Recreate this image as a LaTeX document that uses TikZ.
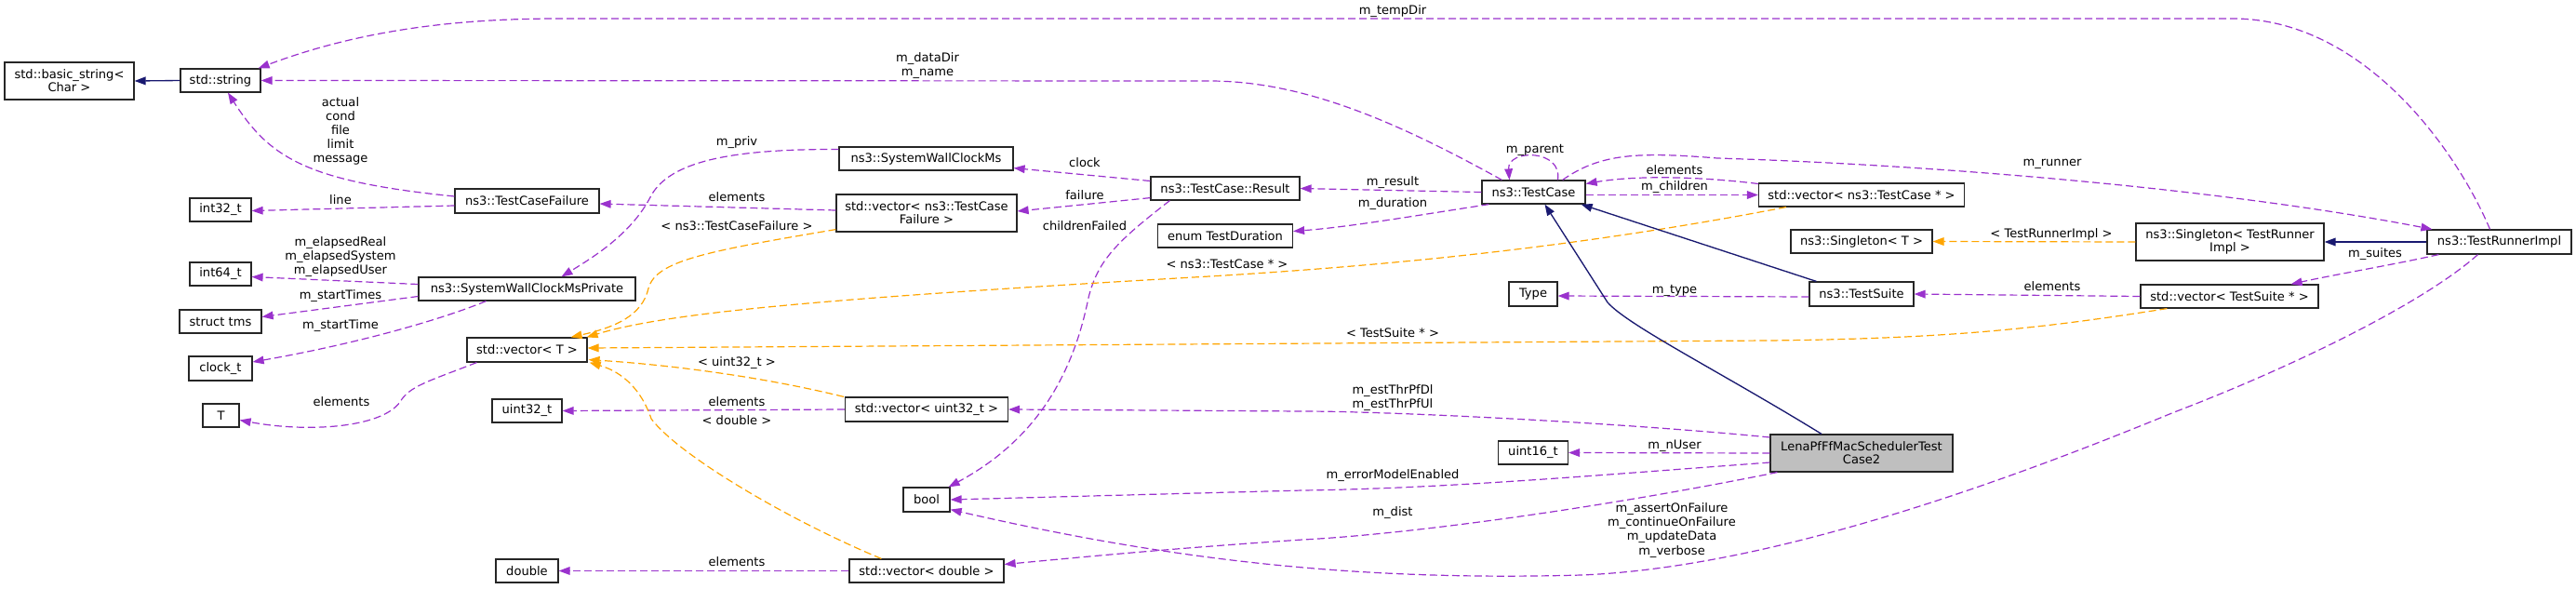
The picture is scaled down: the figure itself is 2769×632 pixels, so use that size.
\documentclass[tikz,border=0pt]{standalone}
\usepackage{fontspec}
\setmainfont{DejaVu Sans}
\usetikzlibrary{arrows.meta,calc}
\definecolor{dpurple}{HTML}{9A32CD}
\definecolor{dorange}{HTML}{FFA500}
\definecolor{dnavy}{HTML}{191970}
\definecolor{lgray}{HTML}{BFBFBF}
\begin{document}
\begin{tikzpicture}[x=0.75pt,y=-0.75pt,
  box/.style={draw=black!85, line width=0.9pt, fill=white, inner sep=0pt, align=center, font=\fontsize{9.8}{10.4}\selectfont},
  wh/.style 2 args={minimum width=#1*0.75pt, minimum height=#2*0.75pt},
  lbl/.style={inner sep=0pt, align=center, font=\fontsize{9.8}{11.3}\selectfont},
  tipa/.style={-{Triangle[length=9pt,width=6.5pt]}},
  usage/.style={draw=dpurple, line width=0.9pt, dash pattern=on 6pt off 3pt, tipa},
  templ/.style={draw=dorange, line width=0.9pt, dash pattern=on 6pt off 3pt, tipa},
  inh/.style={draw=dnavy, line width=1pt, tipa}]
\useasboundingbox (0,0) rectangle (2769,632);

% nodes
\node[box,wh={139}{40}] (bs) at (74.5,87) {std::basic\_string<\\Char >};
\node[box,wh={86}{25}] (str) at (237,86.5) {std::string};
\node[box,wh={155}{26}] (tcf) at (566.5,216) {ns3::TestCaseFailure};
\node[box,wh={66}{25}] (i32) at (237,225.5) {int32\_t};
\node[box,wh={66}{25}] (i64) at (237,294.5) {int64\_t};
\node[box,wh={233}{25}] (prv) at (566.5,310.5) {ns3::SystemWallClockMsPrivate};
\node[box,wh={88}{25}] (tms) at (237,345.5) {struct tms};
\node[box,wh={68}{26}] (clk) at (237,396) {clock\_t};
\node[box,wh={39}{25}] (nT) at (237.5,446.5) {T};
\node[box,wh={129}{26}] (vT) at (566.5,376) {std::vector< T >};
\node[box,wh={75}{25}] (u32) at (566.5,441.5) {uint32\_t};
\node[box,wh={67}{25}] (dbl) at (566.5,613.5) {double};
\node[box,wh={187}{25}] (swcm) at (995.5,170.5) {ns3::SystemWallClockMs};
\node[box,wh={194}{40}] (vtcf) at (996,229) {std::vector< ns3::TestCase\\Failure >};
\node[box,wh={160}{25}] (res) at (1317,202.5) {ns3::TestCase::Result};
\node[box,wh={145}{25}] (dur) at (1317,253.5) {enum TestDuration};
\node[box,wh={175}{26}] (vu32) at (996,440) {std::vector< uint32\_t >};
\node[box,wh={50}{26}] (nbool) at (996,537) {bool};
\node[box,wh={166}{25}] (vdbl) at (996,613.5) {std::vector< double >};
\node[box,wh={111}{25}] (tc) at (1648.5,206.5) {ns3::TestCase};
\node[box,wh={221}{25}] (vtc) at (2001,209.5) {std::vector< ns3::TestCase * >};
\node[box,wh={152}{25}] (sgT) at (2001,259.5) {ns3::Singleton< T >};
\node[box,wh={52}{26}] (type) at (1648,316) {Type};
\node[box,wh={112}{26}] (ts) at (2001,316) {ns3::TestSuite};
\node[box,wh={75}{25}] (u16) at (1648,486.5) {uint16\_t};
\node[box,wh={196}{40},fill=lgray] (lena) at (2001,487) {LenaPfFfMacSchedulerTest\\Case2};
\node[box,wh={202}{40}] (sgR) at (2397,260) {ns3::Singleton< TestRunner\\Impl >};
\node[box,wh={155}{26}] (tri) at (2686.5,260) {ns3::TestRunnerImpl};
\node[box,wh={191}{25}] (vts) at (2396.5,318.5) {std::vector< TestSuite * >};

% edges
\draw[inh] (str.west) -- (bs.east);
\draw[usage] ($(tri.north)+(-10,0)$) .. controls (2640,160) and (2540,20) .. (2400,20) -- (600,20) .. controls (480,20) and (380,35) .. ($(str.north east)+(-3,0)$);
\draw[usage] ($(tc.north west)+(22,0)$) .. controls (1500,130) and (1400,87) .. (1300,87) -- (str.east);
\draw[usage] ($(tcf.west)+(0,-5)$) .. controls (330,195) and (290,170) .. ($(str.south)+(8,0)$);
\draw[usage] ($(tcf.west)+(0,5)$) -- ($(i32.east)+(0,1)$);
\draw[usage] ($(vtcf.west)+(0,-3)$) -- ($(tcf.east)+(0,3)$);
\draw[templ] ($(vtcf.south west)+(0,-3)$) .. controls (760,270) and (705,280) .. (697,310) .. controls (690,340) and (660,352) .. ($(vT.north east)+(-18,0)$);
\draw[usage] ($(swcm.west)+(0,-10)$) .. controls (780,160) and (720,175) .. (700,210) .. controls (680,250) and (640,275) .. ($(prv.north)+(37,0)$);
\draw[usage] ($(res.west)+(0,-8)$) -- ($(swcm.south east)+(0,-3)$);
\draw[usage] ($(res.south west)+(0,-3)$) -- ($(vtcf.east)+(0,-2)$);
\draw[usage] ($(res.south west)+(21,0)$) .. controls (1200,260) and (1180,280) .. (1170,320) .. controls (1150,420) and (1100,480) .. ($(nbool.north east)+(-2,0)$);
\draw[usage] (tc.west) -- (res.east);
\draw[usage] ($(tc.south west)+(8,0)$) .. controls (1520,232) and (1450,244) .. ($(dur.east)+(0,-5)$);
\draw[usage] ($(tc.north)+(26,0)$) .. controls (1680,160) and (1620,160) .. ($(tc.north)+(-26,0)$);
\draw[usage] ($(tc.east)+(0,3)$) -- (vtc.west);
\draw[usage] ($(vtc.west)+(0,-12)$) .. controls (1830,190) and (1760,188) .. ($(tc.east)+(0,-9)$);
\draw[usage] ($(tc.north east)+(-25,0)$) .. controls (1720,165) and (1760,163) .. (1846,170) .. controls (2100,178) and (2400,205) .. ($(tri.north west)+(6,0)$);
\draw[templ] ($(vtc.south west)+(30,0)$) .. controls (1700,265) and (1500,285) .. (1300,297) .. controls (900,320) and (720,335) .. ($(vT.north east)+(-1,0)$);
\draw[templ] (sgR.west) -- (sgT.east);
\draw[inh] (tri.west) -- (sgR.east);
\draw[usage] ($(tri.south west)+(13,0)$) .. controls (2570,285) and (2510,295) .. ($(vts.north east)+(-30,0)$);
\draw[usage] (vts.west) -- (ts.east);
\draw[inh] ($(ts.north west)+(8,0)$) -- ($(tc.south east)+(-5,0)$);
\draw[usage] ($(ts.west)+(0,3)$) -- ($(type.east)+(0,2)$);
\draw[templ] ($(vts.south west)+(29,0)$) .. controls (2200,352) and (2100,364) .. (1900,366) -- ($(vT.east)+(0,-2)$);
\draw[templ] ($(vu32.north west)+(-1,0)$) .. controls (820,405) and (720,392) .. ($(vT.south east)+(1,-3)$);
\draw[usage] (vu32.west) -- (u32.east);
\draw[templ] ($(vdbl.north west)+(35,0)$) .. controls (850,560) and (730,490) .. (700,450) .. controls (690,420) and (670,400) .. ($(vT.south east)+(2,0)$);
\draw[usage] (vdbl.west) -- (dbl.east);
\draw[usage] ($(vT.south west)+(11,0)$) .. controls (460,410) and (440,415) .. (430,432) .. controls (410,460) and (330,465) .. ($(nT.east)+(0,5)$);
\draw[usage] ($(prv.west)+(0,-5)$) -- ($(i64.east)+(0,3)$);
\draw[usage] ($(prv.west)+(0,8)$) -- ($(tms.east)+(0,-5)$);
\draw[usage] ($(prv.south)+(-44,0)$) .. controls (470,345) and (380,370) .. ($(clk.east)+(0,-7)$);
\draw[inh] ($(lena.north)+(-43,0)$) .. controls (1850,400) and (1750,350) .. (1728,325) -- ($(tc.south)+(12,0)$);
\draw[usage] ($(lena.west)+(0,-17)$) .. controls (1750,455) and (1500,442) .. (1400,442) -- (vu32.east);
\draw[usage] (lena.west) -- (u16.east);
\draw[usage] ($(lena.west)+(0,10)$) .. controls (1700,512) and (1550,525) .. (1400,527) -- (nbool.east);
\draw[usage] ($(lena.south west)+(8,0)$) .. controls (1700,550) and (1500,575) .. (1400,580) .. controls (1250,590) and (1150,600) .. ($(vdbl.east)+(0,-7)$);
\draw[usage] ($(tri.south)+(-23,0)$) .. controls (2600,330) and (2450,400) .. (2337,443) .. controls (2150,520) and (1900,610) .. (1700,618) .. controls (1450,625) and (1250,600) .. ($(nbool.south east)+(0,-3)$);

% labels
\node[lbl] (l1) at (1497,12) {m\_tempDir};
\node[lbl] (l2) at (997,71) {m\_dataDir\\m\_name};
\node[lbl] (l3) at (366,141) {actual\\cond\\file\\limit\\message};
\node[lbl] (l4) at (366,215) {line};
\node[lbl] (l5) at (792,212) {elements};
\node[lbl] (l6) at (792,243) {< ns3::TestCaseFailure >};
\node[lbl] (l7) at (792,153) {m\_priv};
\node[lbl] (l8) at (1166,175) {clock};
\node[lbl] (l9) at (1166,210) {failure};
\node[lbl] (l10) at (1166,243) {childrenFailed};
\node[lbl] (l11) at (1497,196) {m\_result};
\node[lbl] (l12) at (1497,219) {m\_duration};
\node[lbl] (l13) at (1650,161) {m\_parent};
\node[lbl] (l14) at (1800,201) {m\_children};
\node[lbl] (l15) at (1800,183) {elements};
\node[lbl] (l16) at (2206,176) {m\_runner};
\node[lbl] (l17) at (1319,284) {< ns3::TestCase * >};
\node[lbl] (l18) at (2205,252) {< TestRunnerImpl >};
\node[lbl] (l19) at (2553,273) {m\_suites};
\node[lbl] (l20) at (2206,308) {elements};
\node[lbl] (l21) at (1800,312) {m\_type};
\node[lbl] (l22) at (1497,358) {< TestSuite * >};
\node[lbl] (l23) at (792,390) {< uint32\_t >};
\node[lbl] (l24) at (792,432) {elements};
\node[lbl] (l25) at (792,452) {< double >};
\node[lbl] (l26) at (792,604) {elements};
\node[lbl] (l27) at (367,432) {elements};
\node[lbl] (l28) at (366,276) {m\_elapsedReal\\m\_elapsedSystem\\m\_elapsedUser};
\node[lbl] (l29) at (366,318) {m\_startTimes};
\node[lbl] (l30) at (366,350) {m\_startTime};
\node[lbl] (l31) at (1497,428) {m\_estThrPfDl\\m\_estThrPfUl};
\node[lbl] (l32) at (1800,479) {m\_nUser};
\node[lbl] (l33) at (1497,511) {m\_errorModelEnabled};
\node[lbl] (l34) at (1497,551) {m\_dist};
\node[lbl] (l35) at (1797,570) {m\_assertOnFailure\\m\_continueOnFailure\\m\_updateData\\m\_verbose};
\end{tikzpicture}
\end{document}
